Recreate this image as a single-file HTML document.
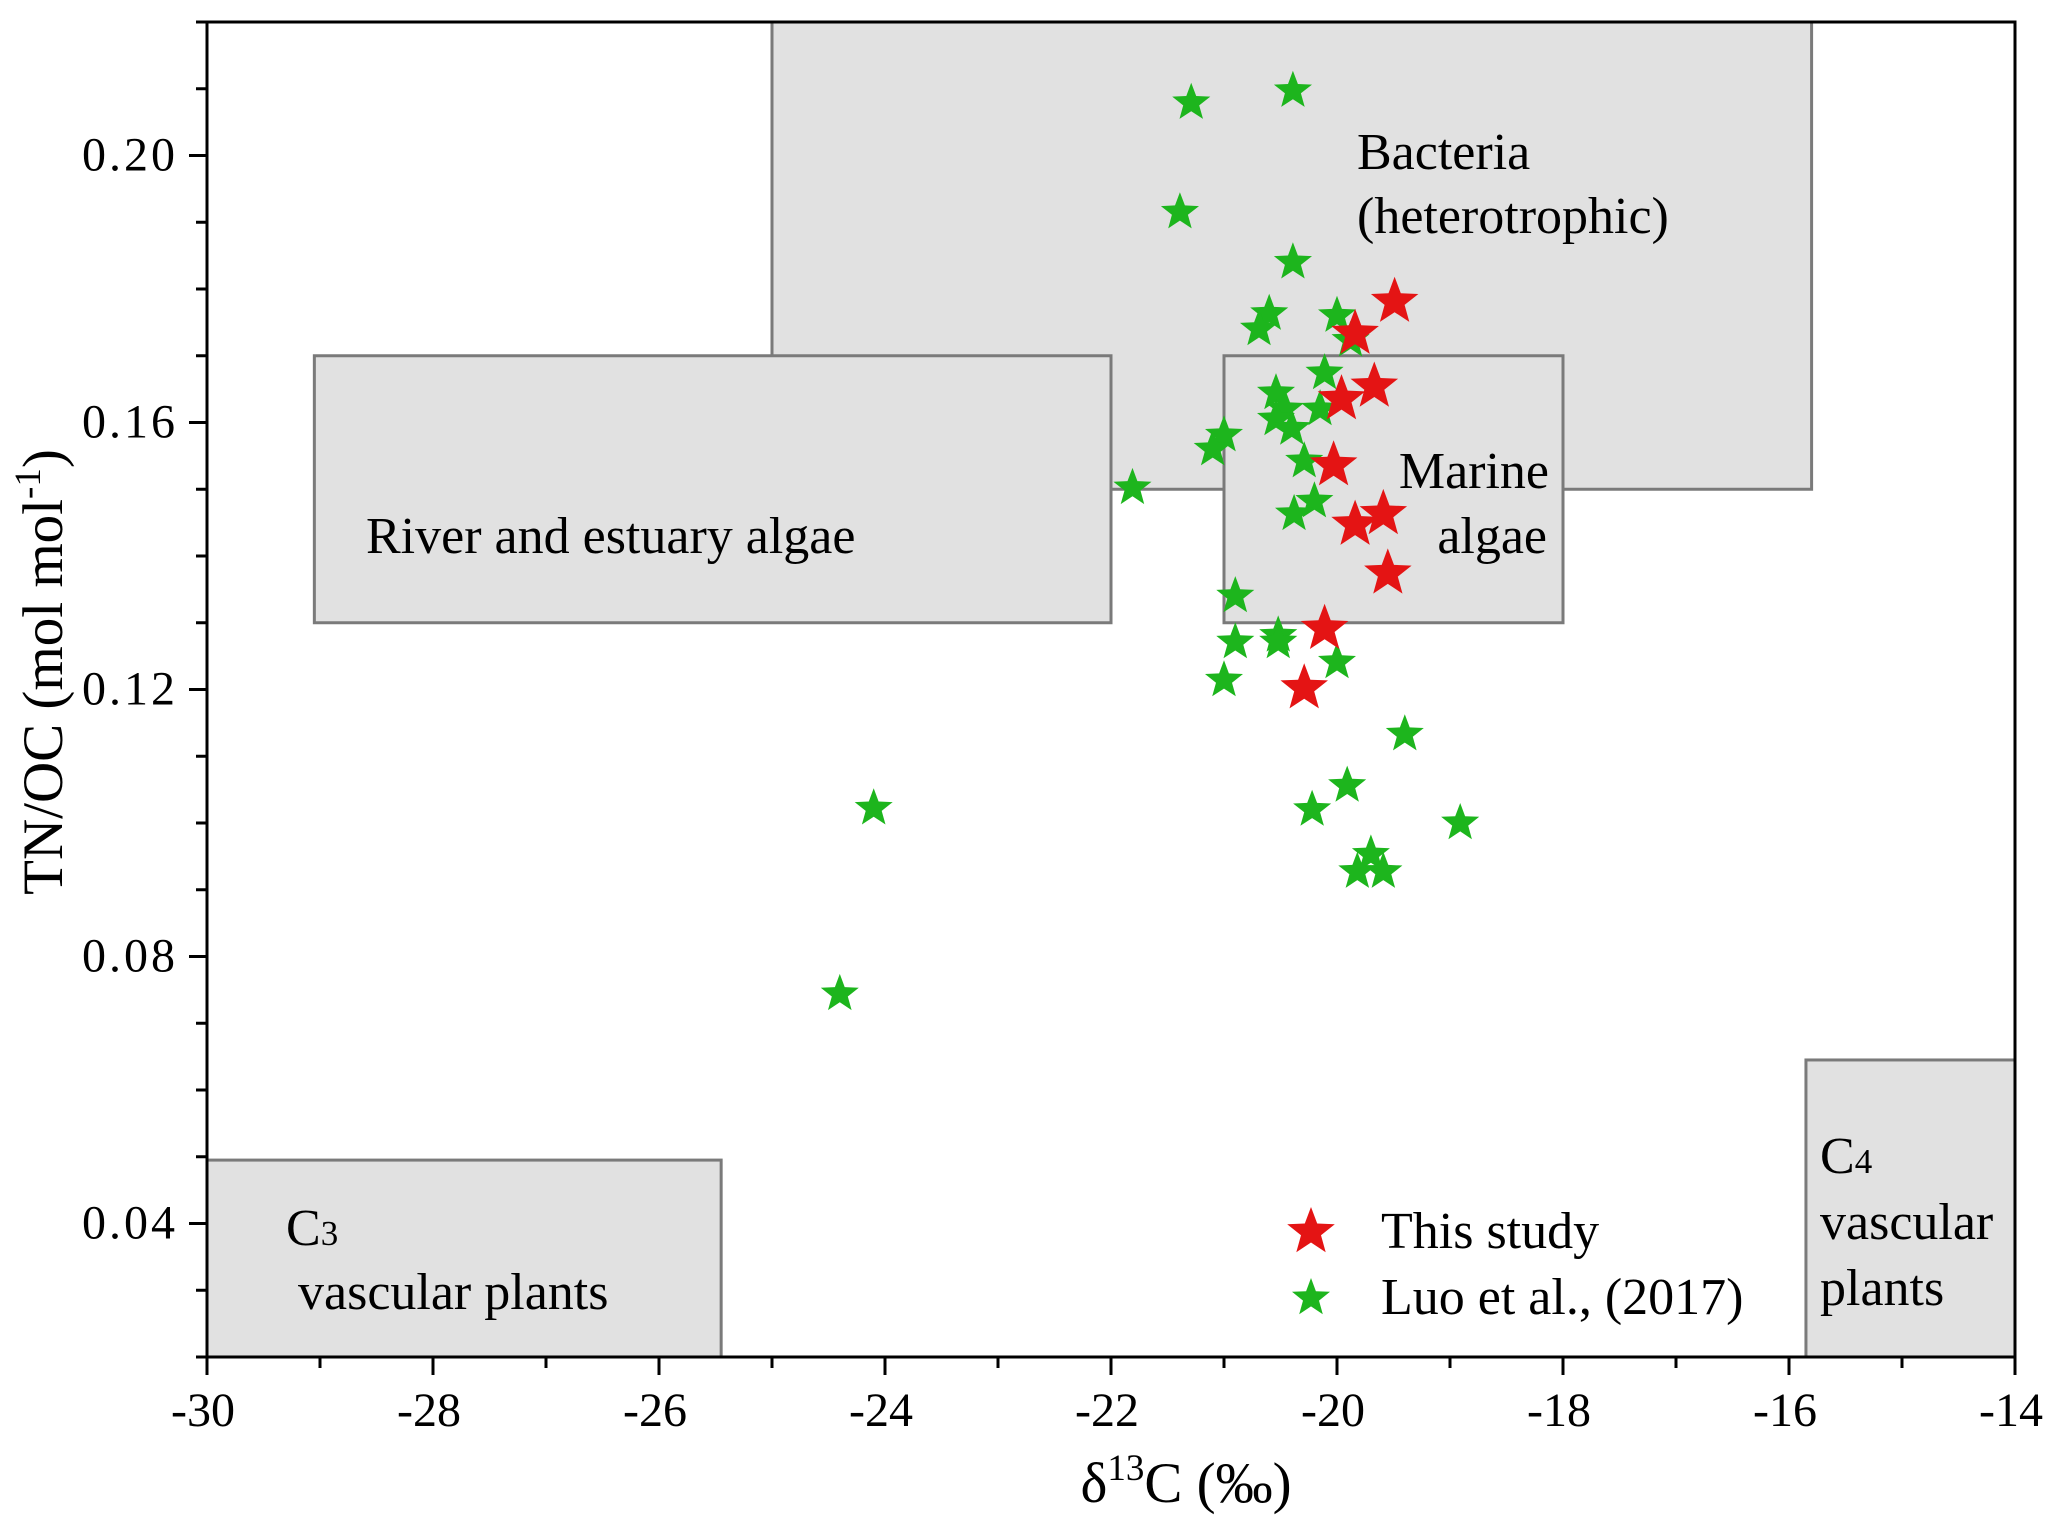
<!DOCTYPE html>
<html><head><meta charset="utf-8"><style>
html,body{margin:0;padding:0;background:#fff}
svg{display:block;font-family:"Liberation Serif",serif}
</style></head><body>
<svg id="chart" width="2067" height="1530" viewBox="0 0 2067 1530" xmlns="http://www.w3.org/2000/svg">
<g id="boxes"></g>
<g id="frame"></g>
<g id="texts" font-size="52" fill="#000">
<text x="1357" y="169">Bacteria</text>
<text x="1357" y="233">(heterotrophic)</text>
<text x="1549" y="488" text-anchor="end">Marine</text>
<text x="1547" y="553" text-anchor="end">algae</text>
<text x="366" y="553">River and estuary algae</text>
<text x="286" y="1245">C<tspan font-size="35">3</tspan></text>
<text x="298" y="1309">vascular plants</text>
<text x="1820" y="1173">C<tspan font-size="35">4</tspan></text>
<text x="1820" y="1239">vascular</text>
<text x="1820" y="1305">plants</text>
<text x="1381" y="1248">This study</text>
<text x="1381" y="1314">Luo et al., (2017)</text>
<text x="1186" y="1502" text-anchor="middle" font-size="57">δ<tspan font-size="37" dy="-22">13</tspan><tspan dy="22">C (‰)</tspan></text>
<text transform="translate(62,672) rotate(-90)" text-anchor="middle" font-size="57">TN/OC (mol mol<tspan font-size="37" dy="-22">-1</tspan><tspan dy="22">)</tspan></text>
</g>
<g id="points"></g>
</svg>
<script>
const xTicks=[-30,-28,-26,-24,-22,-20,-18,-16,-14];
const yTicks=[0.04,0.08,0.12,0.16,0.20];
const yTickLabels=["0.04","0.08","0.12","0.16","0.20"];
const greenX=[-21.29,-20.39,-21.39,-20.39,-20.6,-20.69,-20.0,-19.88,-20.11,-20.54,-20.46,-20.15,-20.54,-20.40,-21.0,-21.1,-20.29,-21.81,-20.2,-20.38,-20.9,-20.9,-20.52,-20.52,-21.0,-20.0,-19.4,-19.91,-20.22,-24.1,-18.91,-19.7,-19.82,-19.59,-24.4];
const greenY=[0.2079,0.2097,0.1915,0.184,0.1763,0.174,0.176,0.1723,0.1674,0.1644,0.162,0.162,0.1605,0.1591,0.1581,0.156,0.1542,0.1502,0.1482,0.1463,0.134,0.1271,0.1281,0.1271,0.1214,0.1241,0.1133,0.1056,0.102,0.1022,0.100,0.0953,0.0927,0.0927,0.0744];
const redX=[-19.49,-19.84,-19.67,-19.96,-20.03,-19.59,-19.84,-19.55,-20.11,-20.29];
const redY=[0.1781,0.1733,0.1654,0.1635,0.1536,0.1463,0.1447,0.1374,0.1291,0.1202];
const boxNames=["bacteria-box","river-algae-box","marine-algae-box","c3-box","c4-box"];
const boxX0=[-25,-29.05,-21,-30,-15.85];
const boxX1=[-15.8,-22,-18,-25.45,-14];
const boxY0=[0.15,0.13,0.13,0.02,0.02];
const boxY1=[0.22,0.17,0.17,0.0495,0.0645];

const X0=207,X1=2015,Y0=1357,Y1=22;
const xs=v=>X0+(v+30)/16*(X1-X0);
const ys=v=>Y0-(v-0.02)/0.2*(Y0-Y1);
const NS="http://www.w3.org/2000/svg";
function mk(tag,parent,attrs){const e=document.createElementNS(NS,tag);for(const k in attrs)e.setAttribute(k,attrs[k]);parent.appendChild(e);return e;}
const gb=document.getElementById('boxes');
boxNames.forEach((n,i)=>{
 const r=mk('rect',gb,{x:xs(boxX0[i]),y:ys(boxY1[i]),width:xs(boxX1[i])-xs(boxX0[i]),height:ys(boxY0[i])-ys(boxY1[i]),fill:'#e1e1e1',stroke:'#7a7a7a','stroke-width':3});
 
 
});
const gf=document.getElementById('frame');
const fr=mk('rect',gf,{x:X0,y:Y1,width:X1-X0,height:Y0-Y1,fill:'none',stroke:'#000','stroke-width':3});


for(let v=-30;v<=-14;v++){
 const major=(v%2===0);
 const t=mk('line',gf,{x1:xs(v),x2:xs(v),y1:Y0,y2:Y0+(major?18:11),stroke:'#000','stroke-width':3});
 
 
}
xTicks.forEach(v=>{
 const t=mk('text',gf,{x:xs(v)-4,y:1426,'text-anchor':'middle','font-size':48});
 t.textContent=String(v);
 
 
});
for(let k=2;k<=22;k++){
 const v=k/100;
 const major=(k%4===0);
 const t=mk('line',gf,{x1:X0,x2:X0-(major?18:11),y1:ys(v),y2:ys(v),stroke:'#000','stroke-width':3});
 
 
}
yTicks.forEach((v,i)=>{
 const t=mk('text',gf,{x:178,y:ys(v)+15,'text-anchor':'end','font-size':48,'letter-spacing':'3'});
 t.textContent=yTickLabels[i];
 
 
});
function starPath(cx,cy,R){const r=R*0.42;let d='';for(let i=0;i<10;i++){const a=-Math.PI/2+i*Math.PI/5;const rr=i%2?r:R;d+=(i?'L':'M')+(cx+rr*Math.cos(a)).toFixed(1)+','+(cy+rr*Math.sin(a)).toFixed(1);}return d+'Z';}
const gp=document.getElementById('points');
greenX.forEach((x,i)=>{
 const p=mk('path',gp,{d:starPath(xs(x),ys(greenY[i]),20),fill:'#1db51d'});
 
 
});
redX.forEach((x,i)=>{
 const p=mk('path',gp,{d:starPath(xs(x),ys(redY[i]),25),fill:'#e41414'});
 
 
});
const l1=mk('path',gp,{d:starPath(1311,1232,25),fill:'#e41414'});


const l2=mk('path',gp,{d:starPath(1311,1298,20),fill:'#1db51d'});


</script>
</body></html>
